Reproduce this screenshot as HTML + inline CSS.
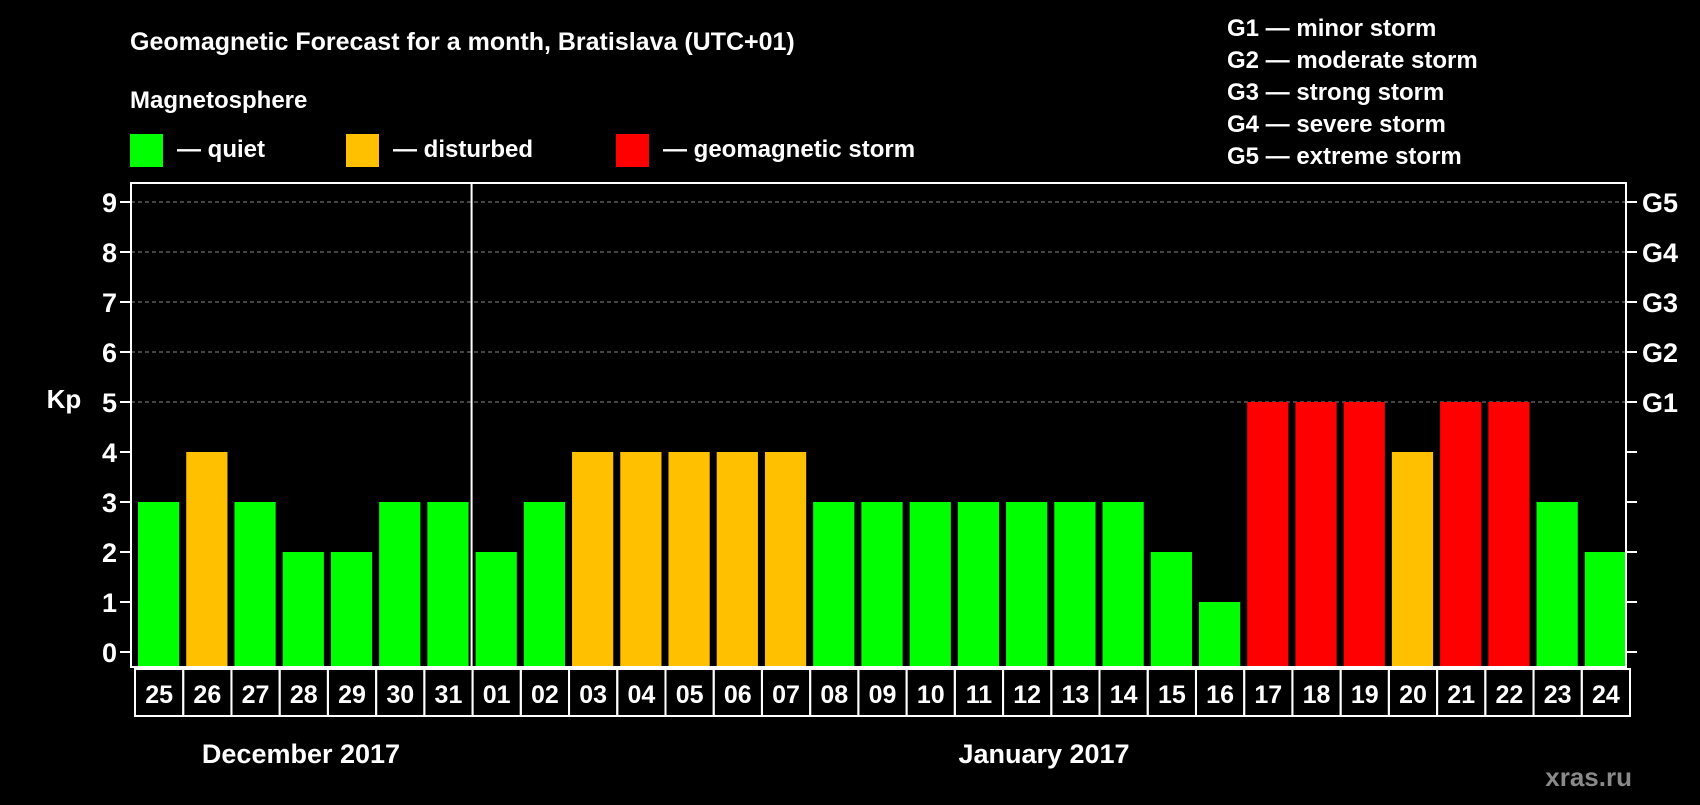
<!DOCTYPE html>
<html><head><meta charset="utf-8"><style>
body{margin:0;background:#000;width:1700px;height:800px;overflow:hidden}
svg text{font-family:"Liberation Sans",Arial,sans-serif;font-weight:bold;fill:#fff}
</style></head><body>
<svg width="1700" height="800">
<text x="130" y="50" font-size="25">Geomagnetic Forecast for a month, Bratislava (UTC+01)</text>
<text x="130" y="108" font-size="24">Magnetosphere</text>
<g>
<rect x="130" y="134" width="33" height="33" fill="#00ff00"/>
<text x="177" y="157" font-size="24">— quiet</text>
<rect x="346" y="134" width="33" height="33" fill="#ffc000"/>
<text x="393" y="157" font-size="24">— disturbed</text>
<rect x="616" y="134" width="33" height="33" fill="#ff0000"/>
<text x="663" y="157" font-size="24">— geomagnetic storm</text>
</g>
<g font-size="24">
<text x="1227" y="36">G1 — minor storm</text>
<text x="1227" y="68">G2 — moderate storm</text>
<text x="1227" y="100">G3 — strong storm</text>
<text x="1227" y="132">G4 — severe storm</text>
<text x="1227" y="164">G5 — extreme storm</text>
</g>
<text x="64" y="408" font-size="26" text-anchor="middle">Kp</text>
<g id="plot"></g>
<text x="301" y="763" font-size="27" text-anchor="middle">December 2017</text>
<text x="1044" y="763" font-size="27" text-anchor="middle">January 2017</text>
<text x="1632" y="786" font-size="26" text-anchor="end" style="fill:#8a8a8a">xras.ru</text>
</svg>
<script>
const days=["25","26","27","28","29","30","31","01","02","03","04","05","06","07","08","09","10","11","12","13","14","15","16","17","18","19","20","21","22","23","24"];
const kp=[3,4,3,2,2,3,3,2,3,4,4,4,4,4,3,3,3,3,3,3,3,2,1,5,5,5,4,5,5,3,2];
const yTicks=[0,1,2,3,4,5,6,7,8,9];
const gLabels=["G1","G2","G3","G4","G5"];
const NS="http://www.w3.org/2000/svg";
const L=131,R=1626,T=183,B=667;
const slot=(R-L)/days.length;
const y=v=>652-v*50;
const xs=i=>L+i*slot;
const g=document.getElementById('plot');
function mk(t,a,p){const e=document.createElementNS(NS,t);for(const k in a)e.setAttribute(k,a[k]);(p||g).appendChild(e);return e;}
yTicks.forEach(v=>{
 if(v>=5){const l=mk('line',{x1:L,x2:R,y1:y(v),y2:y(v),stroke:'#888','stroke-dasharray':'4 3','stroke-width':1});
 
 }
 const t1=mk('line',{x1:L-11,x2:L,y1:y(v),y2:y(v),stroke:'#fff','stroke-width':2});
 
 
 const t2=mk('line',{x1:R,x2:R+11,y1:y(v),y2:y(v),stroke:'#fff','stroke-width':2});
 
 
 const tx=mk('text',{x:L-14,y:y(v)+10,'font-size':27,'text-anchor':'end'});tx.textContent=v;
 
 
 if(v>=5){const gt=mk('text',{x:R+16,y:y(v)+10,'font-size':27});gt.textContent=gLabels[v-5];
 
 }
});
kp.forEach((v,i)=>{
 const c=v>=5?'#ff0000':v>=4?'#ffc000':'#00ff00';
 const b=mk('rect',{x:xs(i)+7,y:y(v),width:slot-7,height:B-1-y(v),fill:c});
 
 
 const bx=mk('rect',{x:xs(i)+4,y:B+2,width:slot,height:47,fill:'none',stroke:'#fff','stroke-width':2});
 
 
 const t=mk('text',{x:xs(i)+4+slot/2,y:B+36,'font-size':25,'text-anchor':'middle'});t.textContent=days[i];
 
 
});
const fr=mk('rect',{x:L,y:T,width:R-L,height:B-T,fill:'none',stroke:'#fff','stroke-width':2});


const sep=mk('line',{x1:xs(7)+3,x2:xs(7)+3,y1:T,y2:B,stroke:'#fff','stroke-width':2});


</script>
</body></html>
